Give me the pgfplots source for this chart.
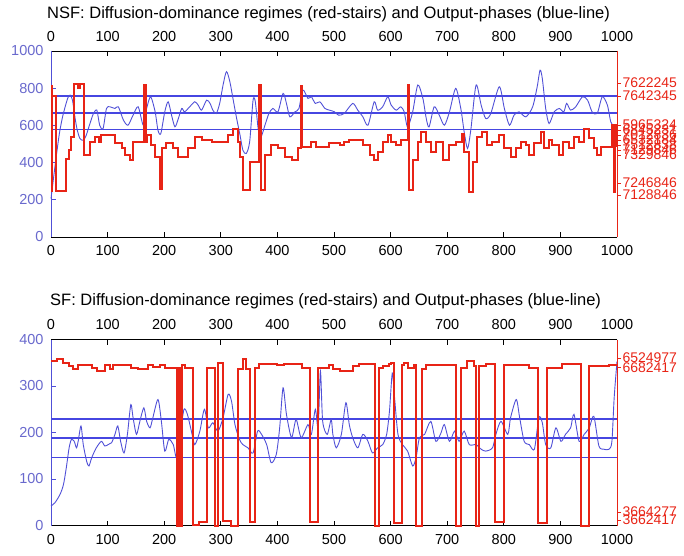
\documentclass[border=0pt]{standalone}
\usepackage{pgfplots}
\pgfplotsset{compat=1.18}
\usepackage{fontspec}
\setmainfont{Liberation Sans}

\definecolor{phaseblue}{RGB}{80,80,215}
\definecolor{levelblue}{RGB}{70,70,225}
\definecolor{ticklblue}{RGB}{105,105,205}
\definecolor{regimered}{RGB}{232,36,22}
\newcommand{\ticksize}{\fontsize{14.5}{16}\selectfont}
\newcommand{\titlesize}{\fontsize{16.5}{19}\selectfont}

\pgfplotsset{
  panel/.style={
    scale only axis, width=566pt, height=186pt,
    xmin=0, xmax=1000,
    /pgf/number format/assume math mode=true,
    /pgf/number format/1000 sep={},
    ticklabel style={font=\ticksize},
  },
  mainpanel/.style={
    panel,
    clip=false,
    separate axis lines,
    x axis line style={black, line width=0.9pt},
    y axis line style={phaseblue, line width=0.9pt},
    xtick={0,100,...,1000},
    xtick pos=both, xticklabel pos=bottom,
    ytick pos=left,
    tick align=inside,
    major tick length=5pt,
    xtick style={black, line width=0.8pt},
    ytick style={phaseblue, line width=0.8pt},
    yticklabel style={text=ticklblue, xshift=-4pt},
    xticklabel style={yshift=-5pt},
  },
  overlaypanel/.style={
    panel,
    axis x line*=top, axis y line*=right,
    x axis line style={draw=none},
    y axis line style={regimered, line width=0.8pt, -},
    xtick={0,100,...,1000},
    xtick style={draw=none},
    xticklabel style={yshift=2pt},
    ytick style={regimered, line width=0.8pt},
    tick align=outside,
    major tick length=4pt,
    yticklabel style={text=regimered, font=\fontsize{14}{16}\selectfont, xshift=-2pt},
  },
  regime/.style={const plot mark left, regimered, line width=2pt, line join=miter},
  phase/.style={phaseblue, line width=0.9pt, smooth, tension=0.45},
  bandline/.style={draw=levelblue, line width=1.2pt, mark=none},
  meanline/.style={draw=levelblue, line width=2.1pt, mark=none},
}

\begin{document}
\begin{tikzpicture}
\useasboundingbox (0,0) rectangle (684pt,555pt);

% ---------------- NSF panel ----------------
\node[anchor=base west, font=\titlesize, inner sep=0pt] at (47pt,536pt)
  {NSF: Diffusion-dominance regimes (red-stairs) and Output-phases (blue-line)};

\begin{axis}[mainpanel, at={(51pt,318pt)}, anchor=south west,
  ymin=0, ymax=1000, ytick={0,200,...,1000}]
  % phase bands: mean and mean +/- spread
  \addplot[bandline] coordinates {(0,758) (500,758) (1000,758)};
  \addplot[meanline] coordinates {(0,668) (500,668) (1000,668)};
  \addplot[bandline] coordinates {(0,578) (500,578) (1000,578)};
  \addplot[phase] coordinates {
    (0,206) (5,330) (10,450) (15,560) (20,640) (25,700) (30,750) (34,763)
    (38,735) (42,650) (46,580) (51,530) (57,520) (62,545) (66,583) (71,630)
    (75,664) (81,682) (86,601) (92,583) (98,691) (104,700) (113,691) (119,700)
    (128,628) (136,601) (145,655) (154,700) (163,601) (169,691) (176,754)
    (184,673) (189,574) (194,556) (201,673) (207,727) (213,655) (219,592)
    (225,637) (231,691) (236,673) (245,700) (254,727) (260,709) (266,682)
    (275,736) (281,718) (286,682) (292,664) (298,718) (304,817) (310,889)
    (316,835) (322,736) (328,637) (334,547) (339,467) (345,449) (351,512)
    (357,736) (361,727) (366,583) (371,538) (378,601) (385,664) (392,691)
    (401,673) (410,772) (416,718) (422,646) (431,673) (438,691) (445,790)
    (454,745) (460,754) (467,718) (475,727) (484,691) (492,682) (501,673)
    (508,655) (518,664) (533,718) (542,682) (551,646) (560,601) (571,727)
    (577,682) (586,700) (595,754) (601,709) (610,682) (618,700) (624,673)
    (630,592) (639,673) (648,817) (657,745) (663,637) (668,592) (677,700)
    (686,655) (695,601) (704,673) (715,799) (724,691) (730,565) (736,476)
    (742,583) (751,817) (760,709) (768,637) (777,664) (792,808) (801,691)
    (810,601) (818,655) (827,673) (839,646) (851,700) (859,808) (864,897)
    (868,853) (874,691) (880,610) (889,673) (898,691) (906,673) (911,718)
    (918,682) (927,700) (939,754) (948,736) (956,673) (965,664) (974,754)
    (983,709) (989,619) (995,592) (1000,583)
  };
  \addplot[regime] coordinates {
    (0,250) (1,810) (2,760) (9,250) (27,420) (31,470) (35,540) (40,820)
    (48,800) (51,820) (59,440) (69,512) (78,538) (84,512) (88,547) (113,503)
    (125,476) (130,440) (139,413) (145,512) (165,817) (168,512) (170,547)
    (176,494) (184,431) (192,260) (196,476) (204,503) (216,476) (225,431)
    (242,476) (254,538) (266,520) (284,512) (313,547) (322,583) (331,512)
    (334,431) (339,251) (351,404) (368,817) (371,251) (378,440) (389,494)
    (401,476) (413,431) (425,413) (437,476) (441,813) (443,485) (460,512)
    (468,485) (492,505) (510,494) (518,512) (527,520) (551,494) (563,440)
    (571,413) (577,458) (586,512) (595,547) (601,512) (610,494) (618,520)
    (631,817) (633,251) (639,413) (648,512) (654,565) (663,512) (671,458)
    (680,512) (692,413) (704,494) (715,512) (727,556) (730,458) (739,242)
    (745,404) (753,538) (762,565) (770,494) (780,512) (792,547) (801,476)
    (812,431) (821,476) (830,512) (839,494) (845,440) (854,503) (865,565)
    (871,476) (880,520) (886,494) (898,440) (904,512) (915,476) (924,538)
    (933,512) (942,583) (951,530) (959,476) (965,440) (971,485) (991,600)
    (994,242) (997,490) (999,600) (1000,600)
  };
\end{axis}

\begin{axis}[overlaypanel, at={(51pt,318pt)}, anchor=south west,
  ymin=0, ymax=1000,
  ytick={828,758,602,575,548,521,494,467,440,290,226},
  yticklabels={7622245,7642345,5965324,6845231,7012836,6532184,7512838,7129846,7329846,7246846,7128846}]
\end{axis}

% ---------------- SF panel ----------------
\node[anchor=base west, font=\titlesize, inner sep=0pt] at (50pt,250pt)
  {SF: Diffusion-dominance regimes (red-stairs) and Output-phases (blue-line)};

\begin{axis}[mainpanel, at={(51pt,29.5pt)}, anchor=south west,
  ymin=0, ymax=400, ytick={0,100,...,400}]
  % phase bands: mean and mean +/- spread
  \addplot[bandline] coordinates {(0,229) (500,229) (1000,229)};
  \addplot[meanline] coordinates {(0,188) (500,188) (1000,188)};
  \addplot[bandline] coordinates {(0,146) (500,146) (1000,146)};
  \addplot[phase] coordinates {
    (0,42) (7,49) (16,67) (22,88) (27,124) (32,167) (36,185) (41,181)
    (45,167) (48,181) (53,214) (57,174) (63,138) (67,128) (72,146) (80,167)
    (89,181) (95,171) (101,174) (107,178) (113,196) (118,214) (123,181)
    (129,156) (135,196) (141,260) (145,232) (151,196) (157,224) (164,253)
    (169,224) (175,210) (180,232) (189,271) (195,224) (201,160) (208,185)
    (216,174) (222,146) (229,203) (235,250) (241,239) (248,203) (254,174)
    (263,203) (271,250) (278,210) (286,221) (295,203) (304,232) (313,282)
    (319,267) (325,217) (333,185) (339,174) (348,167) (357,156) (365,203)
    (372,196) (381,174) (389,135) (398,153) (404,210) (410,296) (416,239)
    (425,189) (433,228) (442,189) (454,217) (460,196) (467,250) (472,210)
    (476,332) (480,224) (488,196) (495,228) (498,196) (504,167) (513,196)
    (521,264) (527,217) (533,189) (542,167) (551,196) (560,181) (568,156)
    (577,167) (586,174) (593,196) (598,246) (603,328) (607,275) (613,196)
    (621,174) (630,160) (639,128) (645,146) (651,189) (660,196) (671,224)
    (680,181) (689,199) (695,217) (704,181) (713,203) (721,181) (730,203)
    (739,174) (751,174) (760,164) (768,160) (780,167) (786,196) (795,224)
    (807,196) (812,232) (822,271) (828,232) (836,181) (845,174) (854,164)
    (862,232) (868,221) (874,174) (883,167) (892,210) (901,181) (909,196)
    (918,210) (924,239) (933,181) (942,196) (951,210) (959,235) (968,171)
    (977,164) (986,164) (991,181) (995,275) (1000,353)
  };
  \addplot[regime] coordinates {
    (0,353) (10,357) (22,350) (31,343) (39,336) (48,346) (72,339) (81,333)
    (95,345) (104,336) (110,346) (142,339) (154,336) (172,346) (181,340)
    (193,346) (201,338) (222,0) (224,338) (226,0) (228,338) (229,0)
    (231,346) (236,339) (251,2) (262,8) (275,339) (289,0) (295,350) (304,10)
    (318,0) (330,336) (340,357) (345,336) (351,8) (360,339) (367,348)
    (400,346) (412,348) (443,339) (458,8) (471,339) (492,346) (498,336)
    (510,333) (533,343) (545,348) (573,0) (579,339) (586,343) (598,348)
    (601,350) (606,5) (620,346) (624,350) (630,339) (642,346) (645,0)
    (656,336) (663,346) (716,0) (724,339) (735,353) (747,343) (751,0)
    (757,343) (768,348) (785,8) (801,346) (845,339) (860,5) (876,339)
    (903,348) (937,0) (951,343) (985,346) (1000,346)
  };
\end{axis}

\begin{axis}[overlaypanel, at={(51pt,29.5pt)}, anchor=south west,
  ymin=0, ymax=400,
  ytick={360,339,29,12},
  yticklabels={6524977,6682417,3664277,3662417}]
\end{axis}
\end{tikzpicture}
\end{document}
